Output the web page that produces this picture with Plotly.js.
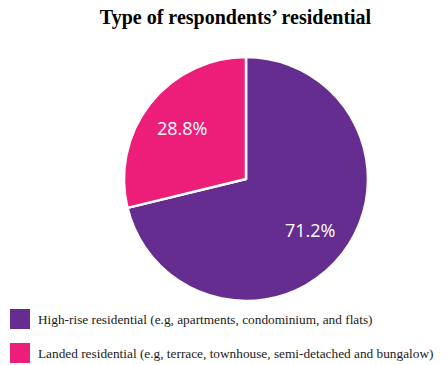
<!DOCTYPE html>
<html>
<head>
<meta charset="utf-8">
<script src="https://cdn.plot.ly/plotly-3.0.1.min.js"></script>
<style>html,body{margin:0;padding:0;background:#fff;}#chart{width:446px;height:365px;}</style>
</head>
<body>
<div id="chart"></div>
<script>
const labels = [
  "High-rise residential (e.g, apartments, condominium, and flats)",
  "Landed residential (e.g, terrace, townhouse, semi-detached and bungalow)"
];
const values = [71.2, 28.8];
const colors = ["#662d91", "#ed1e79"];
const titleText = "Type of respondents\u2019 residential";

const W = 446, H = 365;
const cx = 246, cy = 179, R = 122;

const trace = {
  type: "pie",
  labels: labels,
  values: values,
  sort: false,
  direction: "clockwise",
  rotation: 0,
  marker: {colors: colors, line: {color: "#ffffff", width: 2.5}},
  textinfo: "none",
  hoverinfo: "none",
  showlegend: false,
  domain: {x: [(cx - R) / W, (cx + R) / W], y: [1 - (cy + R) / H, 1 - (cy - R) / H]}
};

// value labels placed at the middle angle of each slice
const total = values.reduce((a, b) => a + b, 0);
let acc = 0;
const valueAnns = values.map((v, i) => {
  const mid = (acc + v / 2) / total * 2 * Math.PI;
  acc += v;
  const r = 0.67 * R;
  const px = cx + r * Math.sin(mid), py = cy - r * Math.cos(mid);
  return {
    xref: "paper", yref: "paper", x: px / W, y: 1 - py / H,
    xanchor: "center", yanchor: "middle", showarrow: false,
    text: v.toFixed(1) + "%",
    font: {family: "Open Sans, sans-serif", size: 18, color: "#ffffff"}
  };
});

const legendTop = [309, 343];
const sw = 20;
const shapes = labels.map((l, i) => ({
  type: "rect", xref: "paper", yref: "paper",
  x0: 10 / W, x1: (10 + sw) / W,
  y0: 1 - (legendTop[i] + sw) / H, y1: 1 - legendTop[i] / H,
  fillcolor: colors[i], line: {width: 0}
}));
const legendAnns = labels.map((l, i) => ({
  xref: "paper", yref: "paper", x: 36 / W, y: 1 - (legendTop[i] + sw / 2) / H,
  xanchor: "left", yanchor: "middle", showarrow: false, text: l,
  font: {family: "Liberation Serif, Times New Roman, serif", size: 13.3, color: "#1a1a1a"}
}));

const layout = {
  width: W, height: H,
  margin: {l: 0, r: 0, t: 0, b: 0},
  paper_bgcolor: "#ffffff",
  showlegend: false,
  title: {
    text: "<b>" + titleText + "</b>",
    x: 235.5 / W, xanchor: "center", y: 1 - 17 / H, yanchor: "middle",
    font: {family: "Liberation Serif, Times New Roman, serif", size: 20, color: "#000000"}
  },
  shapes: shapes,
  annotations: valueAnns.concat(legendAnns)
};

Plotly.newPlot("chart", [trace], layout, {staticPlot: true});
</script>
</body>
</html>
